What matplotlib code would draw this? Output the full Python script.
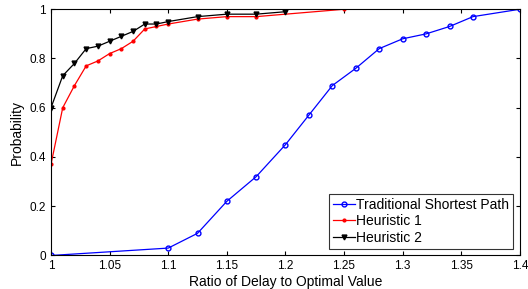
import numpy as np
import matplotlib.pyplot as plt

plt.rcParams['font.family'] = ['Liberation Sans', 'DejaVu Sans']

# Traditional shortest path
x_trad = [1.0, 1.1, 1.125, 1.15, 1.175, 1.2, 1.22, 1.24, 1.26, 1.28, 1.30, 1.32, 1.34, 1.36, 1.40]
y_trad = [0.0, 0.03, 0.09, 0.22, 0.32, 0.45, 0.57, 0.69, 0.76, 0.84, 0.88, 0.90, 0.93, 0.97, 1.0]

# Heuristic 1
x_h1 = [1.0, 1.01, 1.02, 1.03, 1.04, 1.05, 1.06, 1.07, 1.08, 1.09, 1.10, 1.125, 1.15, 1.175, 1.25]
y_h1 = [0.37, 0.60, 0.69, 0.77, 0.79, 0.82, 0.84, 0.87, 0.92, 0.93, 0.94, 0.96, 0.97, 0.97, 1.0]

# Heuristic 2
x_h2 = [1.0, 1.01, 1.02, 1.03, 1.04, 1.05, 1.06, 1.07, 1.08, 1.09, 1.10, 1.125, 1.15, 1.175, 1.2]
y_h2 = [0.60, 0.73, 0.78, 0.84, 0.85, 0.87, 0.89, 0.91, 0.94, 0.94, 0.95, 0.97, 0.98, 0.98, 0.99]

fig = plt.figure(figsize=(5.28, 2.89), dpi=100)
ax = fig.add_axes([0.0966, 0.116, 0.888, 0.852])

ax.plot(x_trad, y_trad, 'o-', color='blue', lw=0.9, ms=3.5, mfc='none', mew=1.0,
        label='Traditional Shortest Path')
ax.plot(x_h1, y_h1, '.-', color='red', lw=0.9, ms=4, label='Heuristic 1')
ax.plot(x_h2, y_h2, 'v-', color='black', lw=0.9, ms=3.5, label='Heuristic 2')

ax.set_xlim(1, 1.4)
ax.set_ylim(0, 1)
ax.set_xticks([1, 1.05, 1.1, 1.15, 1.2, 1.25, 1.3, 1.35, 1.4])
ax.set_xticklabels(['1', '1.05', '1.1', '1.15', '1.2', '1.25', '1.3', '1.35', '1.4'])
ax.set_yticks([0, 0.2, 0.4, 0.6, 0.8, 1])
ax.set_yticklabels(['0', '0.2', '0.4', '0.6', '0.8', '1'])
ax.tick_params(direction='in', top=True, right=True, labelsize=8.5, length=3, width=0.8)
for s in ax.spines.values():
    s.set_linewidth(0.8)

ax.set_xlabel('Ratio of Delay to Optimal Value', fontsize=10, labelpad=2)
ax.set_ylabel('Probability', fontsize=10, labelpad=4)

leg = ax.legend(loc='lower right', fontsize=10, frameon=True, fancybox=False,
                edgecolor='black', borderpad=0.25, labelspacing=0.2,
                handlelength=1.6, handletextpad=0.1, borderaxespad=0.5)
leg.get_frame().set_linewidth(0.8)

fig.savefig('out.png', dpi=100)
